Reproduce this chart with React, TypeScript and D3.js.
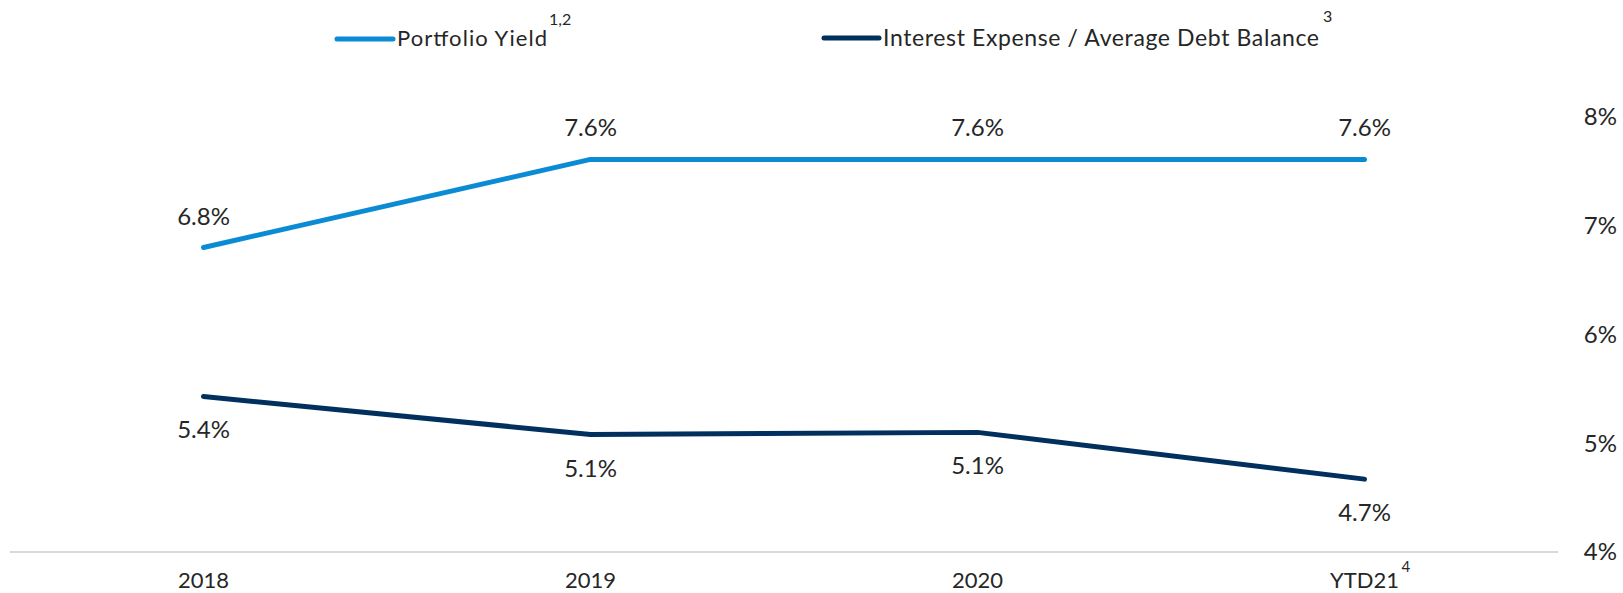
import React from "react";
import * as d3 from "d3";

const categories = ["2018", "2019", "2020", "YTD21"];
const categorySup = ["", "", "", "4"];
const portfolioYield = [6.8, 7.61, 7.61, 7.61];
const interestExpense = [5.43, 5.08, 5.1, 4.67];
const portfolioLabels = ["6.8%", "7.6%", "7.6%", "7.6%"];
const interestLabels = ["5.4%", "5.1%", "5.1%", "4.7%"];
const yTicks = [4, 5, 6, 7, 8];

const W = 1623;
const H = 593;
const FONT = "Lato, 'Open Sans', sans-serif";
const TEXT = "#262626";
const C_PY = "#0a8bd3";
const C_IE = "#01305f";

export default function App() {
  const x = d3.scaleBand<string>().domain(categories).range([10, 1558]);
  const y = d3.scaleLinear().domain([4, 8]).range([552, 117]);
  const cx = (c: string) => (x(c) as number) + x.bandwidth() / 2;
  const line = d3
    .line<number>()
    .x((_, i) => cx(categories[i]))
    .y((d) => y(d));

  return (
    <div style={{ position: "absolute", left: 0, top: 0 }}>
      <svg width={W} height={H} style={{ display: "block", fontFamily: FONT }}>
        <rect width={W} height={H} fill="#fff" />
        {/* axis line */}
        <line x1={10} x2={1558} y1={y(4)} y2={y(4)} stroke="#d9d9d9" strokeWidth={2} />
        {/* right axis labels */}
        {yTicks.map((t) => (
          <text key={t} x={1617} y={y(t)} dy="0.35em" textAnchor="end" fontSize={24} fill={TEXT}>
            {t}%
          </text>
        ))}
        {/* x labels */}
        {categories.map((c, i) => (
          <g key={c}>
            <text x={cx(c)} y={588} textAnchor="middle" fontSize={22} fill={TEXT}>
              {c}
            </text>
            {categorySup[i] && (
              <text x={cx(c) + 37} y={572} fontSize={15} fill={TEXT}>
                {categorySup[i]}
              </text>
            )}
          </g>
        ))}
        {/* lines */}
        <path d={line(portfolioYield) || ""} fill="none" stroke={C_PY} strokeWidth={5} strokeLinecap="round" strokeLinejoin="round" />
        <path d={line(interestExpense) || ""} fill="none" stroke={C_IE} strokeWidth={5} strokeLinecap="round" strokeLinejoin="round" />
        {/* data labels */}
        {portfolioYield.map((v, i) => (
          <text key={"p" + i} x={cx(categories[i])} y={y(v) - 23} textAnchor="middle" fontSize={24} fill={TEXT}>
            {portfolioLabels[i]}
          </text>
        ))}
        {interestExpense.map((v, i) => (
          <text key={"e" + i} x={cx(categories[i])} y={y(v) + 42} textAnchor="middle" fontSize={24} fill={TEXT}>
            {interestLabels[i]}
          </text>
        ))}
        {/* legend */}
        <line x1={337} x2={393} y1={39} y2={39} stroke={C_PY} strokeWidth={5} strokeLinecap="round" />
        <text x={397} y={46} fontSize={22} fill={TEXT} textLength={150} lengthAdjust="spacing">Portfolio Yield</text>
        <text x={549} y={25} fontSize={16} fill={TEXT}>1,2</text>
        <line x1={824} x2={879} y1={38} y2={38} stroke={C_IE} strokeWidth={5} strokeLinecap="round" />
        <text x={883} y={46} fontSize={23} fill={TEXT} textLength={436} lengthAdjust="spacing">Interest Expense / Average Debt Balance</text>
        <text x={1323} y={22} fontSize={16} fill={TEXT}>3</text>
      </svg>
    </div>
  );
}
